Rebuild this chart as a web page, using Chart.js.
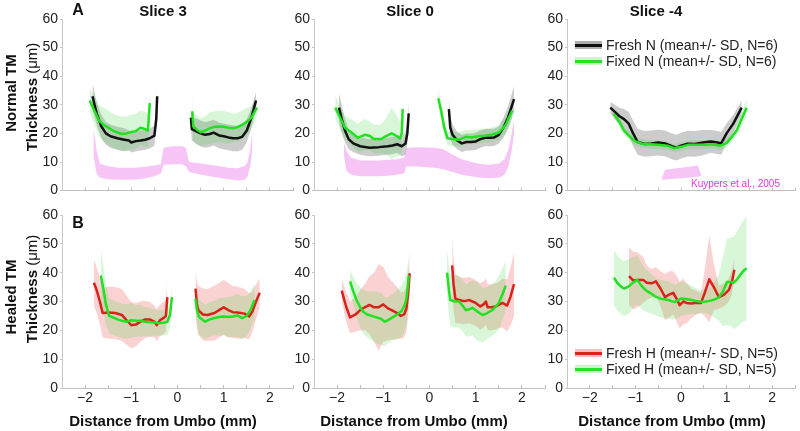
<!DOCTYPE html>
<html>
<head>
<meta charset="utf-8">
<script src="https://cdn.jsdelivr.net/npm/chart.js@4.4.0/dist/chart.umd.min.js"></script>
<style>
  html, body { margin: 0; padding: 0; background: #fff; }
  #fig { position: relative; width: 800px; height: 431px; overflow: hidden;
         font-family: "Liberation Sans", Arial, sans-serif; color: #111; }
  #fig canvas { position: absolute; }
  .t { position: absolute; white-space: nowrap; transform: translate(-50%, -50%); font-weight: bold; font-size: 15px; }
  .rot { transform: translate(-50%, -50%) rotate(-90deg); }
  .nb { font-weight: normal; }
  .leg { position: absolute; height: 16px; font-size: 14px; line-height: 16px; white-space: nowrap; color: #222; }
  .sw { position: absolute; left: 0; top: 4px; width: 27px; height: 8px; }
  .sw i { position: absolute; left: 0; right: 0; top: 2.5px; height: 3px; }
  .leg span { position: absolute; left: 31px; top: 0; }
  .ref { position: absolute; font-size: 10px; color: #e236e2; white-space: nowrap; transform: translateY(-50%); }
</style>
</head>
<body>
<div id="fig">
  <canvas id="p1"></canvas><canvas id="p2"></canvas><canvas id="p3"></canvas>
  <canvas id="p4"></canvas><canvas id="p5"></canvas><canvas id="p6"></canvas>

  <div class="t" style="left:78px;top:10px;font-size:16px">A</div>
  <div class="t" style="left:78px;top:223px;font-size:16px">B</div>
  <div class="t" style="left:163px;top:10px">Slice 3</div>
  <div class="t" style="left:410px;top:10px">Slice 0</div>
  <div class="t" style="left:656px;top:10px">Slice -4</div>

  <div class="t rot" style="left:10px;top:93px">Normal TM</div>
  <div class="t rot" style="left:31px;top:97px">Thickness <span class="nb">(μm)</span></div>
  <div class="t rot" style="left:10px;top:297px">Healed TM</div>
  <div class="t rot" style="left:31px;top:289px">Thickness <span class="nb">(μm)</span></div>

  <div class="t" style="left:163px;top:420px">Distance from Umbo (mm)</div>
  <div class="t" style="left:414px;top:420px">Distance from Umbo (mm)</div>
  <div class="t" style="left:672px;top:420px">Distance from Umbo (mm)</div>

  <div class="leg" style="left:575px;top:37px"><div class="sw" style="background:rgba(110,110,110,0.55)"><i style="background:#111"></i></div><span>Fresh N (mean+/- SD, N=6)</span></div>
  <div class="leg" style="left:575px;top:53px"><div class="sw" style="background:rgba(60,215,60,0.25)"><i style="background:#22e022"></i></div><span>Fixed N (mean+/- SD, N=6)</span></div>
  <div class="leg" style="left:575px;top:345px"><div class="sw" style="background:rgba(238,95,95,0.4)"><i style="background:#d8231a"></i></div><span>Fresh H (mean+/- SD, N=5)</span></div>
  <div class="leg" style="left:575px;top:361px"><div class="sw" style="background:rgba(60,215,60,0.25)"><i style="background:#22e022"></i></div><span>Fixed H (mean+/- SD, N=5)</span></div>

  <div class="ref" style="left:691px;top:183px">Kuypers et al., 2005</div>
</div>

<script>
// --- axis settings ---
const xMin = -2.5, xMax = 2.5, xStep = 0.5;
const yMin = 0, yMax = 60, yStep = 10;

// --- Slice 3, normal TM ---
const s3nFreshLeftX = [-1.84, -1.75, -1.65, -1.55, -1.45, -1.3, -1.15, -1.05, -1.0, -0.9, -0.8, -0.7, -0.6, -0.5, -0.46, -0.44];
const s3nFreshLeftMean = [33, 27, 22.5, 20, 19, 18.3, 17.8, 17.5, 16.8, 17.3, 17.5, 17.8, 18.3, 19.2, 25, 33];
const s3nFreshLeftSd = [4.5, 4, 4, 4, 4, 4, 4, 3.5, 3.5, 3.5, 3.5, 3.5, 3.5, 3.5, 3.5, 3.5];
const s3nFixedLeftX = [-1.9, -1.8, -1.7, -1.6, -1.5, -1.4, -1.3, -1.2, -1.1, -1.0, -0.9, -0.8, -0.7, -0.64, -0.6];
const s3nFixedLeftMean = [31.5, 28, 24.5, 23, 22, 21, 20.3, 19.8, 20, 20.5, 20.8, 22, 21.5, 21, 30.6];
const s3nFixedLeftSd = [4, 5, 5.5, 6, 6, 6, 6, 6, 6, 6, 6, 6, 6, 6, 4];
const s3nFreshRightX = [0.29, 0.31, 0.4, 0.5, 0.6, 0.7, 0.78, 0.9, 1.0, 1.1, 1.2, 1.3, 1.4, 1.5, 1.6, 1.7];
const s3nFreshRightMean = [25.5, 21.5, 20.8, 20, 19.5, 19.8, 20.3, 19.3, 19, 18.6, 18.3, 18.3, 18.8, 21, 25.5, 31.5];
const s3nFreshRightSd = [4, 4, 4.5, 4.5, 4.5, 4.5, 4.5, 4.5, 4.5, 4.5, 4.5, 4.5, 4.5, 4, 3.5, 3];
const s3nFixedRightX = [0.32, 0.34, 0.42, 0.5, 0.6, 0.7, 0.8, 0.9, 1.0, 1.1, 1.2, 1.3, 1.4, 1.5, 1.6, 1.72];
const s3nFixedRightMean = [27.7, 22.5, 21.3, 20.4, 21, 21.8, 22.3, 22.4, 22.3, 22, 21.8, 22.2, 23, 24, 25.5, 29];
const s3nFixedRightSd = [5, 5, 5, 5, 5, 5.5, 5.5, 5.5, 5.5, 5.5, 5, 5, 5, 5, 4, 3];
const s3KuypersX = [-1.82, -1.75, -1.68, -1.5, -1.3, -1.1, -0.9, -0.7, -0.5, -0.36, -0.3, -0.1, 0.1, 0.18, 0.25, 0.5, 0.7, 0.9, 1.1, 1.3, 1.45, 1.52, 1.58, 1.62];
const s3KuypersHigh = [22, 14, 9.5, 8.5, 8, 8, 8, 8.3, 8.8, 9.2, 15, 15.5, 15.5, 15, 10, 9.5, 9, 8.5, 8, 7.8, 8.5, 10, 15, 22];
const s3KuypersLow = [12, 6, 4.5, 4, 3.8, 3.8, 3.9, 4.2, 5, 6, 9, 9.2, 9.2, 8.5, 6.5, 5.6, 5, 4.5, 4, 3.5, 3.8, 5, 9, 15];

// --- Slice 0, normal TM ---
const s0nFreshLeftX = [-1.96, -1.9, -1.83, -1.75, -1.65, -1.5, -1.3, -1.1, -0.9, -0.8, -0.7, -0.6, -0.52, -0.48, -0.45];
const s0nFreshLeftMean = [29, 25, 21, 18, 16.5, 15.5, 15, 15.2, 15.5, 15.8, 16.2, 15.5, 16.5, 20, 27];
const s0nFreshLeftSd = [5, 5, 4, 3.5, 3, 3, 3, 3, 3, 3, 3, 3.5, 4, 4, 4];
const s0nFixedLeftX = [-2.04, -1.95, -1.83, -1.7, -1.55, -1.4, -1.3, -1.2, -1.05, -0.95, -0.82, -0.7, -0.64, -0.6, -0.58];
const s0nFixedLeftMean = [29, 26, 22, 20.5, 18.5, 19.5, 19.2, 18, 18, 19, 20, 19, 18.2, 20, 28.5];
const s0nFixedLeftSd = [4, 4, 4, 4.5, 5, 5.5, 5, 5, 5, 6, 9, 7, 6, 6, 5];
const s0nFreshRightX = [0.42, 0.45, 0.5, 0.6, 0.7, 0.8, 0.9, 1.0, 1.1, 1.2, 1.3, 1.4, 1.5, 1.6, 1.7, 1.83];
const s0nFreshRightMean = [28.5, 22, 19.5, 17.5, 16.5, 17, 17, 17.2, 18, 18.5, 18.5, 18.6, 19.5, 22, 25.5, 32];
const s0nFreshRightSd = [4, 4, 3.5, 3, 3, 3, 3, 3, 3, 3, 3, 3, 3, 3.5, 4, 4.5];
const s0nFixedRightX = [0.19, 0.25, 0.32, 0.39, 0.5, 0.64, 0.79, 0.9, 1.07, 1.2, 1.36, 1.5, 1.65, 1.79];
const s0nFixedRightMean = [32.3, 28, 22, 18.3, 18, 17.8, 18.8, 18.6, 19, 19.2, 19.6, 20.3, 23, 28];
const s0nFixedRightSd = [3, 3, 3, 2.5, 2.5, 2.5, 2.5, 2.5, 2.5, 2.5, 2.5, 2.5, 3, 3];
const s0KuypersX = [-1.85, -1.8, -1.7, -1.5, -1.3, -1.1, -0.9, -0.7, -0.55, -0.5, -0.2, 0.1, 0.3, 0.5, 0.7, 0.9, 1.1, 1.3, 1.5, 1.62, 1.7, 1.78, 1.83];
const s0KuypersHigh = [17, 14, 11.5, 10.5, 10.5, 10.5, 10.8, 11, 11.5, 15, 15.2, 15, 14.5, 12.5, 11, 10, 9.3, 9, 9.5, 11, 14, 20, 25];
const s0KuypersLow = [12, 7, 5.5, 5, 5, 5, 5.2, 5.5, 6, 8.5, 8.3, 8, 7.5, 6.5, 5.5, 5, 4.5, 4.3, 4.5, 5.5, 8, 14, 20];

// --- Slice -4, normal TM ---
const sm4nFreshX = [-1.55, -1.45, -1.35, -1.25, -1.15, -1.05, -0.95, -0.8, -0.65, -0.5, -0.35, -0.2, -0.1, 0.0, 0.15, 0.3, 0.45, 0.65, 0.8, 0.88, 1.0, 1.15, 1.33];
const sm4nFreshMean = [29, 27.5, 26, 25, 23.5, 20, 17, 16.3, 16.5, 16.8, 16.5, 15.5, 15, 15.7, 16.4, 16.3, 16.7, 17.2, 16.8, 16.5, 20, 23.5, 29];
const sm4nFreshSd = [2, 2.5, 3, 3.5, 4, 4.5, 4.5, 4.5, 4.5, 4.5, 4.5, 4.5, 4.5, 4.5, 4.5, 4.5, 4.5, 4, 4, 4, 3.5, 3, 2.5];
const sm4nFixedX = [-1.48, -1.35, -1.25, -1.1, -1.0, -0.85, -0.7, -0.5, -0.3, -0.15, 0.0, 0.15, 0.3, 0.5, 0.7, 0.86, 1.0, 1.1, 1.22, 1.33, 1.44];
const sm4nFixedMean = [27, 24, 21, 18.5, 17.2, 16.4, 16.2, 16, 15.7, 14.8, 15.3, 16, 16, 16, 16.2, 15.7, 16.6, 18.5, 21, 25, 29];
const sm4nFixedSd = [1.5, 1.5, 1.5, 1.5, 1.5, 1.5, 1.5, 1.5, 1.5, 1.5, 1.5, 1.5, 1.5, 1.5, 1.5, 1.5, 1.5, 1.5, 2, 2.5, 3];
const sm4KuypersX = [-0.42, -0.35, 0.0, 0.37, 0.44];
const sm4KuypersHigh = [4.2, 7.3, 8, 8.8, 5.6];
const sm4KuypersLow = [3.8, 3.9, 4.3, 4.8, 5.2];

// --- Slice 3, healed TM ---
const s3hFreshLeftX = [-1.81, -1.75, -1.68, -1.62, -1.5, -1.35, -1.2, -1.1, -1.0, -0.9, -0.8, -0.7, -0.6, -0.5, -0.45, -0.38, -0.3, -0.25, -0.22];
const s3hFreshLeftMean = [36.5, 34, 30, 26, 26.2, 26, 25.3, 23.5, 21.8, 22, 23, 23.8, 23.8, 23, 21.8, 23.5, 24.3, 25, 31.5];
const s3hFreshLeftSd = [8, 8, 8, 8.5, 9, 9, 9, 8.5, 8, 7.5, 7, 6.5, 6, 5.5, 5.5, 5.5, 5.5, 5.5, 5];
const s3hFixedLeftX = [-1.66, -1.6, -1.55, -1.48, -1.4, -1.3, -1.2, -1.1, -1.0, -0.9, -0.8, -0.7, -0.6, -0.5, -0.4, -0.3, -0.22, -0.16, -0.12];
const s3hFixedLeftMean = [39, 34, 29, 25, 24.5, 23.8, 23.3, 23, 23.5, 23.3, 23.3, 23, 22.8, 22.7, 22.5, 22.6, 23, 25.5, 31.5];
const s3hFixedLeftSd = [9, 8, 7, 6, 6, 6, 6, 6, 6, 5.5, 5.5, 5, 5, 4.5, 4.5, 4.5, 4.5, 4, 3];
const s3hFreshRightX = [0.39, 0.42, 0.45, 0.55, 0.65, 0.8, 0.9, 1.0, 1.1, 1.2, 1.3, 1.45, 1.55, 1.62, 1.7, 1.78];
const s3hFreshRightMean = [34.5, 29, 27, 25.5, 25.3, 26, 27, 28, 27, 26.3, 26.2, 25.8, 24.8, 26.5, 30, 33];
const s3hFreshRightSd = [7, 8, 8.5, 9, 9, 9.5, 9.5, 9.5, 9.5, 9, 9, 8.5, 8, 7, 6, 5];
const s3hFixedRightX = [0.39, 0.42, 0.47, 0.6, 0.7, 0.8, 0.9, 1.0, 1.1, 1.2, 1.3, 1.4, 1.5, 1.58, 1.67];
const s3hFixedRightMean = [31, 27, 24.5, 23, 23.8, 24.3, 24.6, 24.8, 24.6, 24.8, 25.2, 24.2, 25, 27, 30.5];
const s3hFixedRightSd = [5, 5.5, 6, 6, 6, 6, 6.5, 6.5, 7, 7, 7.5, 7.5, 7, 6.5, 6];

// --- Slice 0, healed TM ---
const s0hFreshLeftX = [-1.9, -1.8, -1.72, -1.6, -1.5, -1.4, -1.3, -1.2, -1.1, -1.0, -0.9, -0.8, -0.7, -0.62, -0.55, -0.5, -0.46, -0.43];
const s0hFreshLeftMean = [33.8, 28, 24.5, 25.5, 27, 28, 28.8, 28, 28, 29, 27.6, 26.8, 26, 25, 25.5, 27.5, 33, 39.8];
const s0hFreshLeftSd = [4, 5, 5.5, 6, 7, 8, 10, 12, 15, 13, 11, 10, 9, 8, 8, 8, 8, 8];
const s0hFixedLeftX = [-1.72, -1.65, -1.58, -1.5, -1.44, -1.35, -1.25, -1.15, -1.05, -0.97, -0.9, -0.8, -0.7, -0.6, -0.53, -0.5, -0.47, -0.45];
const s0hFixedLeftMean = [37, 33.5, 30.5, 28, 26.5, 25.5, 25, 24.5, 24, 23, 23.5, 24.5, 25.5, 26.8, 29, 31, 35, 39];
const s0hFixedLeftSd = [4, 5, 6, 7, 7.5, 8, 8.5, 9, 9, 8.5, 8, 8, 8.5, 9, 9, 9, 8, 7];
const s0hFreshRightX = [0.49, 0.52, 0.56, 0.65, 0.72, 0.8, 0.86, 0.93, 1.0, 1.1, 1.17, 1.22, 1.26, 1.35, 1.43, 1.5, 1.58, 1.68, 1.75, 1.83];
const s0hFreshRightMean = [42.5, 36, 31, 30.5, 30.2, 30.3, 30.5, 30, 29.5, 28.3, 29, 30, 28, 28, 28.3, 28.8, 29.5, 28.6, 31.5, 36];
const s0hFreshRightSd = [10, 9, 8.5, 8, 8, 8, 8, 8, 8, 8, 8, 8, 8, 8, 8, 8, 8.5, 9, 10, 11];
const s0hFixedRightX = [0.38, 0.42, 0.45, 0.55, 0.64, 0.72, 0.79, 0.86, 0.93, 1.0, 1.08, 1.15, 1.25, 1.36, 1.45, 1.5, 1.58, 1.65];
const s0hFixedRightMean = [40, 34, 30.5, 30, 30, 28.5, 27, 27.3, 27.8, 27, 26, 25.3, 26, 27, 28.5, 29.5, 32.5, 35.5];
const s0hFixedRightSd = [8, 8.5, 9, 9, 9, 9, 9, 9.5, 9.5, 10, 10, 9.5, 9, 9, 9, 9.5, 9, 8.5];

// --- Slice -4, healed TM ---
const sm4hFreshX = [-1.14, -1.05, -0.95, -0.83, -0.75, -0.65, -0.55, -0.45, -0.35, -0.25, -0.17, -0.08, -0.03, 0.05, 0.12, 0.23, 0.35, 0.44, 0.52, 0.62, 0.72, 0.83, 0.94, 1.05, 1.12, 1.17];
const sm4hFreshMean = [38.8, 37.3, 37.5, 37.5, 36.5, 36.3, 37, 34.5, 31.5, 32.5, 33, 30.5, 28.7, 30, 29.5, 29.3, 29.6, 29.5, 33, 37.7, 35, 31.5, 32.3, 34, 37, 41];
const sm4hFreshSd = [10, 10, 9.5, 8, 6, 5, 5, 6, 8, 8, 7.5, 8, 8, 8, 7, 5, 4, 3.5, 8, 15, 8, 4, 4, 4, 4, 4];
const sm4hFixedX = [-1.47, -1.4, -1.3, -1.25, -1.15, -1.07, -0.96, -0.87, -0.78, -0.68, -0.57, -0.45, -0.35, -0.28, -0.14, 0.0, 0.1, 0.21, 0.32, 0.43, 0.55, 0.65, 0.75, 0.83, 0.92, 1.01, 1.1, 1.15, 1.22, 1.29, 1.36, 1.44];
const sm4hFixedMean = [38.3, 36.5, 35, 34.5, 35.2, 36.3, 37.5, 35.5, 34, 33, 31.8, 31, 30.7, 30.5, 29.8, 31, 30.9, 30.6, 30.2, 29.9, 30, 30.3, 30.8, 31.4, 33.5, 36.8, 36.8, 36.5, 37.5, 39, 40.5, 41.5];
const sm4hFixedSd = [9.5, 9.5, 9.5, 9.5, 9.5, 9, 8.5, 8, 7.5, 7, 6.5, 6.5, 6.5, 6.5, 6, 6, 5.5, 5, 4.5, 4, 4, 5, 6.5, 8, 12, 15, 15.5, 16, 16.5, 17, 17.5, 18];

// --- styling ---
const COLORS = {
    freshN: { line: '#111111', band: 'rgba(110,110,110,0.35)', bandOrder: 7, lineOrder: 1 },
    freshH: { line: '#d8231a', band: 'rgba(238,95,95,0.28)', bandOrder: 7, lineOrder: 1 },
    fixed: { line: '#22e022', band: 'rgba(60,215,60,0.2)', bandOrder: 6, lineOrder: 0 },
    ref: 'rgba(238,150,238,0.55)'
};
const NONE = 'rgba(0,0,0,0)';

Chart.defaults.font.family = "'Liberation Sans', Arial, sans-serif";
Chart.defaults.font.size = 14;
Chart.defaults.color = '#222';

const pts = (xs, ys) => xs.map((x, i) => ({ x, y: ys[i] }));
const minus = v => (v < 0 ? '\u2212' + Math.abs(v) : String(v));

function buildPanel(id, box, seriesList, ref, showXLabels) {
    const padR = box.left + box.width >= 800 ? 0 : 3;
    const xH = showXLabels ? 26 : 10;
    const canvas = document.getElementById(id);
    canvas.width = 45 + box.width + padR;
    canvas.height = 12 + box.height + xH;
    canvas.style.left = (box.left - 45) + 'px';
    canvas.style.top = (box.top - 12) + 'px';

    const datasets = [];
    if (ref) {
        datasets.push({ data: pts(ref.x, ref.low), borderColor: NONE, pointRadius: 0, fill: false, order: 10 });
        datasets.push({ data: pts(ref.x, ref.high), borderColor: NONE, pointRadius: 0, fill: '-1', backgroundColor: COLORS.ref, order: 10 });
    }
    seriesList.forEach(s => {
        const c = COLORS[s.kind];
        const low = s.mean.map((m, i) => m - s.sd[i]);
        const high = s.mean.map((m, i) => m + s.sd[i]);
        datasets.push({ data: pts(s.x, low), borderColor: NONE, pointRadius: 0, fill: false, order: c.bandOrder });
        datasets.push({ data: pts(s.x, high), borderColor: NONE, pointRadius: 0, fill: '-1', backgroundColor: c.band, order: c.bandOrder });
        datasets.push({ data: pts(s.x, s.mean), borderColor: c.line, borderWidth: 2.5, pointRadius: 0, fill: false, order: c.lineOrder, borderJoinStyle: 'round' });
    });

    new Chart(canvas, {
        type: 'line',
        data: { datasets },
        options: {
            responsive: false,
            animation: false,
            devicePixelRatio: 1,
            layout: { padding: { top: 12, right: padR, left: 0, bottom: 0 } },
            plugins: { legend: { display: false }, tooltip: { enabled: false } },
            scales: {
                x: {
                    type: 'linear', min: xMin, max: xMax,
                    ticks: {
                        stepSize: xStep, autoSkip: false, maxRotation: 0, padding: 5, color: '#222',
                        callback: v => (showXLabels && Number.isInteger(v) ? minus(v) : '')
                    },
                    grid: { drawOnChartArea: false, tickLength: -3, color: '#c0c0c0' },
                    border: { color: '#c0c0c0' },
                    afterFit: s => { s.height = xH; }
                },
                y: {
                    min: yMin, max: yMax,
                    ticks: { stepSize: yStep, padding: 2, color: '#222' },
                    grid: { drawOnChartArea: false, tickLength: 2, color: '#c8c8c8' },
                    border: { color: '#c8c8c8' },
                    afterFit: s => { s.width = 45; }
                }
            }
        }
    });
}

const topRow = { top: 19, height: 172 };
const botRow = { top: 215, height: 173 };
const cols = [62, 314, 567];
const plotW = 233;

buildPanel('p1', { left: cols[0], width: plotW, ...topRow }, [
    { kind: 'freshN', x: s3nFreshLeftX, mean: s3nFreshLeftMean, sd: s3nFreshLeftSd },
    { kind: 'freshN', x: s3nFreshRightX, mean: s3nFreshRightMean, sd: s3nFreshRightSd },
    { kind: 'fixed', x: s3nFixedLeftX, mean: s3nFixedLeftMean, sd: s3nFixedLeftSd },
    { kind: 'fixed', x: s3nFixedRightX, mean: s3nFixedRightMean, sd: s3nFixedRightSd }
], { x: s3KuypersX, low: s3KuypersLow, high: s3KuypersHigh }, false);

buildPanel('p2', { left: cols[1], width: plotW, ...topRow }, [
    { kind: 'freshN', x: s0nFreshLeftX, mean: s0nFreshLeftMean, sd: s0nFreshLeftSd },
    { kind: 'freshN', x: s0nFreshRightX, mean: s0nFreshRightMean, sd: s0nFreshRightSd },
    { kind: 'fixed', x: s0nFixedLeftX, mean: s0nFixedLeftMean, sd: s0nFixedLeftSd },
    { kind: 'fixed', x: s0nFixedRightX, mean: s0nFixedRightMean, sd: s0nFixedRightSd }
], { x: s0KuypersX, low: s0KuypersLow, high: s0KuypersHigh }, false);

buildPanel('p3', { left: cols[2], width: plotW, ...topRow }, [
    { kind: 'freshN', x: sm4nFreshX, mean: sm4nFreshMean, sd: sm4nFreshSd },
    { kind: 'fixed', x: sm4nFixedX, mean: sm4nFixedMean, sd: sm4nFixedSd }
], { x: sm4KuypersX, low: sm4KuypersLow, high: sm4KuypersHigh }, false);

buildPanel('p4', { left: cols[0], width: plotW, ...botRow }, [
    { kind: 'freshH', x: s3hFreshLeftX, mean: s3hFreshLeftMean, sd: s3hFreshLeftSd },
    { kind: 'freshH', x: s3hFreshRightX, mean: s3hFreshRightMean, sd: s3hFreshRightSd },
    { kind: 'fixed', x: s3hFixedLeftX, mean: s3hFixedLeftMean, sd: s3hFixedLeftSd },
    { kind: 'fixed', x: s3hFixedRightX, mean: s3hFixedRightMean, sd: s3hFixedRightSd }
], null, true);

buildPanel('p5', { left: cols[1], width: plotW, ...botRow }, [
    { kind: 'freshH', x: s0hFreshLeftX, mean: s0hFreshLeftMean, sd: s0hFreshLeftSd },
    { kind: 'freshH', x: s0hFreshRightX, mean: s0hFreshRightMean, sd: s0hFreshRightSd },
    { kind: 'fixed', x: s0hFixedLeftX, mean: s0hFixedLeftMean, sd: s0hFixedLeftSd },
    { kind: 'fixed', x: s0hFixedRightX, mean: s0hFixedRightMean, sd: s0hFixedRightSd }
], null, true);

buildPanel('p6', { left: cols[2], width: plotW, ...botRow }, [
    { kind: 'freshH', x: sm4hFreshX, mean: sm4hFreshMean, sd: sm4hFreshSd },
    { kind: 'fixed', x: sm4hFixedX, mean: sm4hFixedMean, sd: sm4hFixedSd }
], null, true);
</script>
</body>
</html>
